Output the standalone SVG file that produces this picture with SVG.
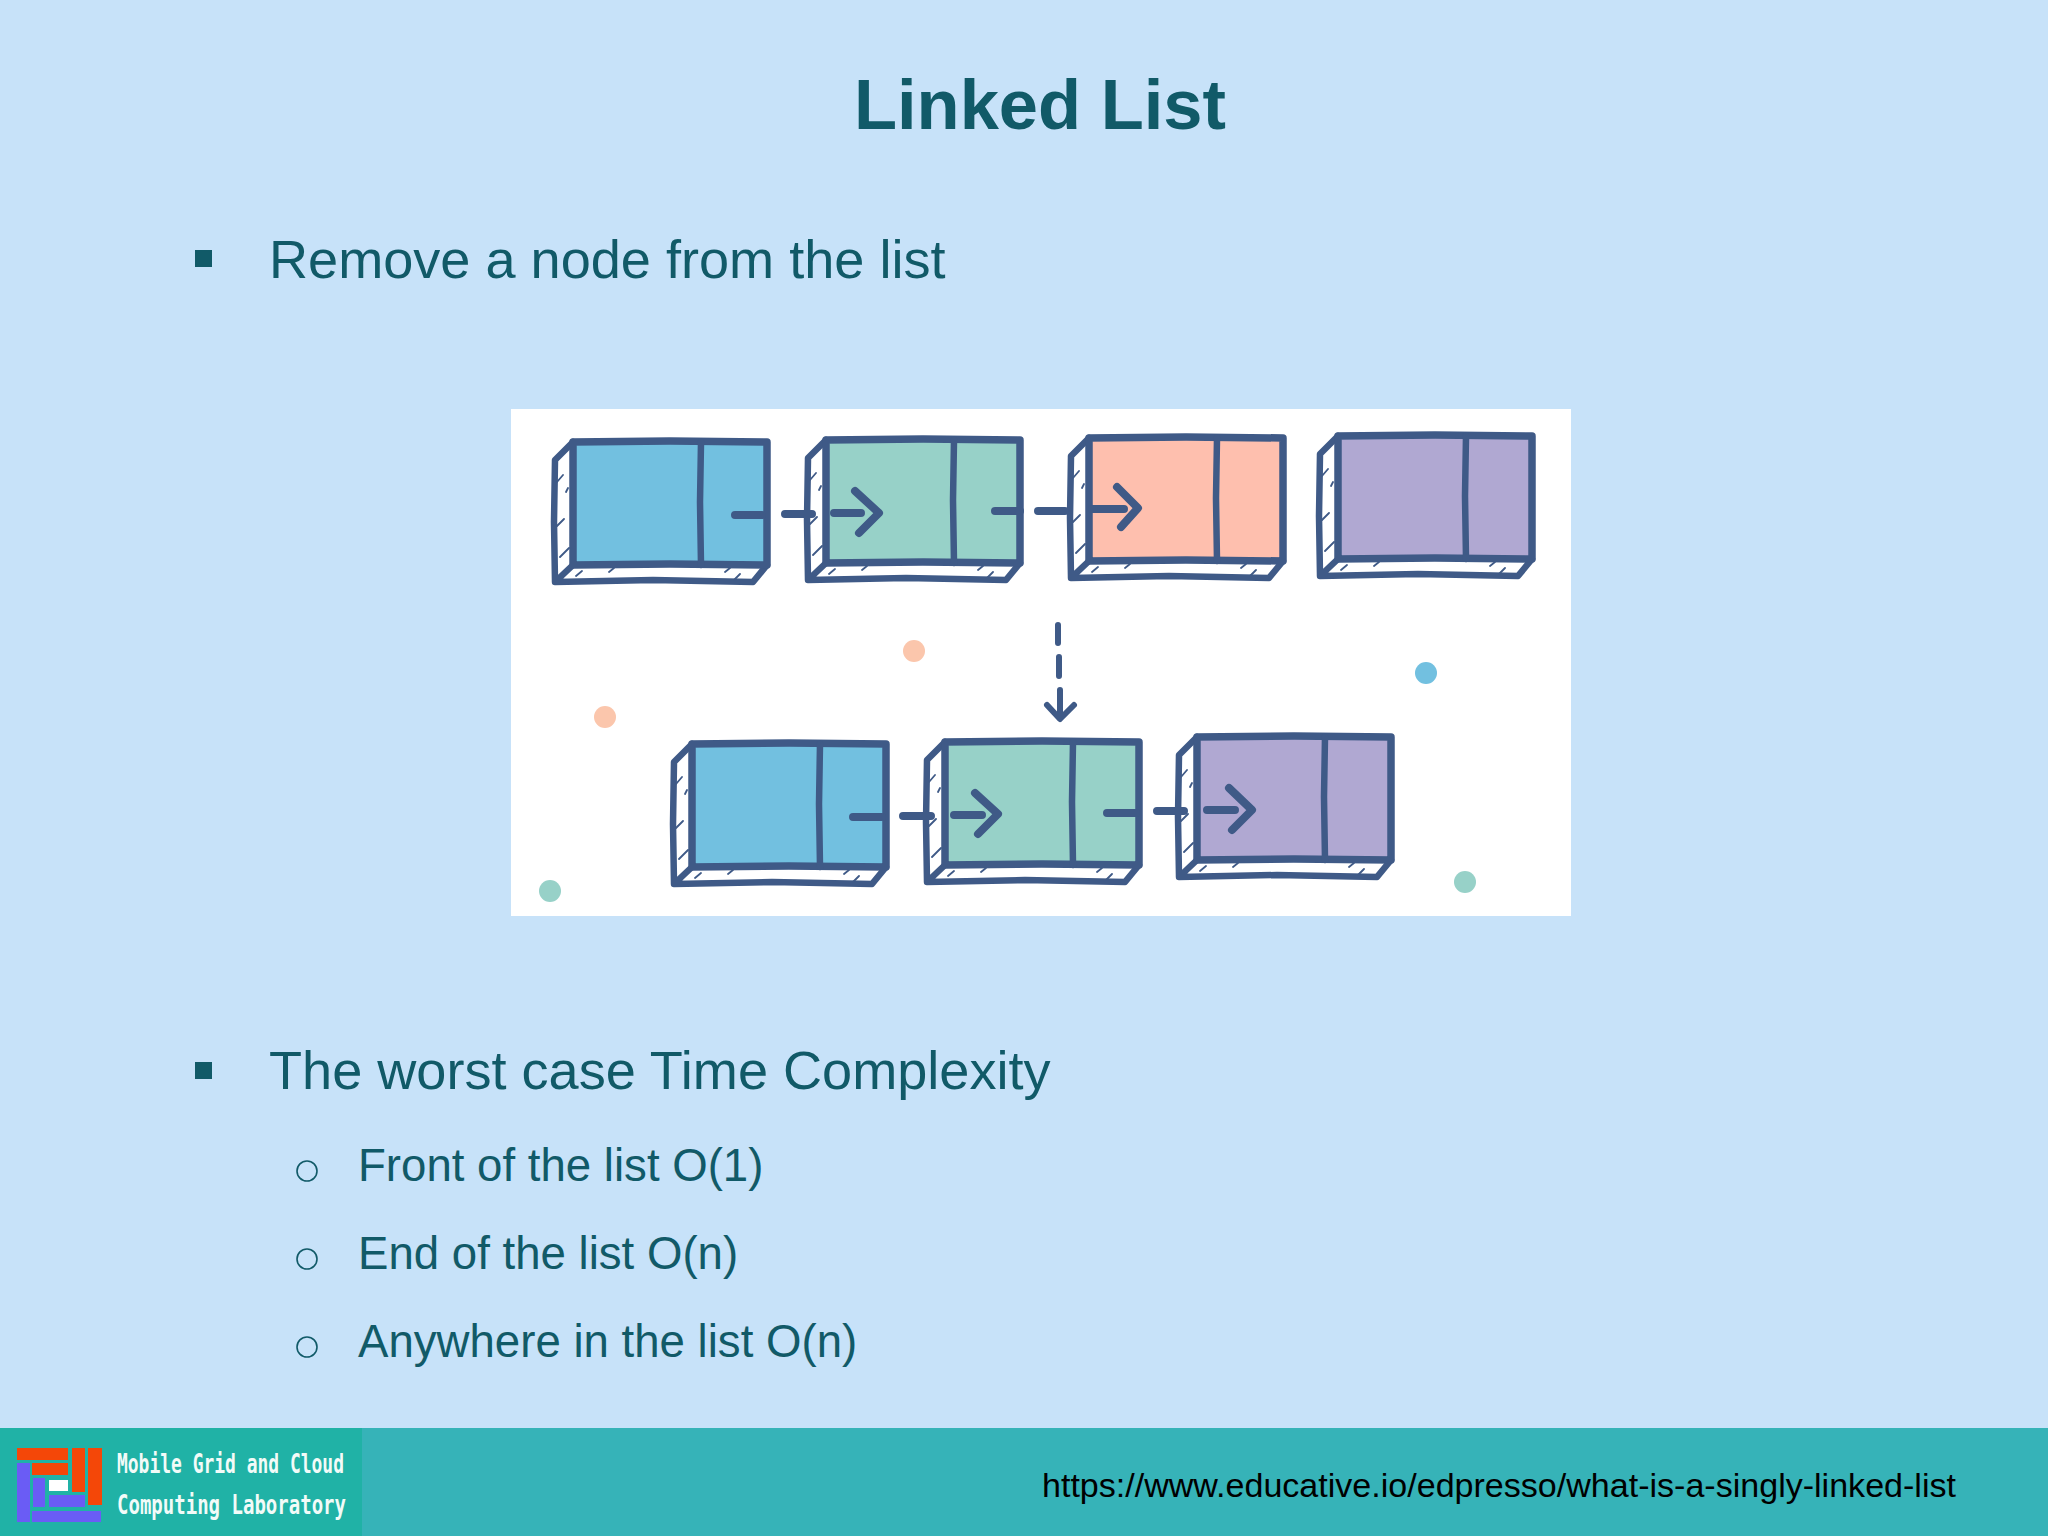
<svg xmlns="http://www.w3.org/2000/svg" width="2048" height="1536" viewBox="0 0 2048 1536">
<style>
text{font-family:"Liberation Sans",Arial,sans-serif}
.t{fill:#115a68}
.h1{font-size:70.5px;font-weight:700}
.b1{font-size:54.1px}
.b2{font-size:45.6px}
.o{fill:none;stroke:#115a68;stroke-width:1.6}
.ln{fill:none;stroke:#3f5a87;stroke-linecap:round;stroke-linejoin:round}
.bx{stroke-width:7.5}
.sd{stroke-width:6.5}
.tk{stroke-width:1.8}
.ar{stroke-width:8}
.ds{stroke-width:6}
.lg{font-size:26px;font-weight:700;fill:#f2fbf8;font-family:"DejaVu Sans Mono","Liberation Mono",monospace}
.red{fill:#f44708}
.vio{fill:#6a5cf5}
</style>
<defs>
<g id="box">
<path fill="#fff" d="M0 0L-18 18L-18 140L180 140L194 123L194 0Z"/>
<path fill="currentColor" d="M0 0H194V123H0Z"/>
<path class="ln sd" d="M0 0L-18 18L-19 80L-18 140L0 123M-18 140L80 138L180 140L194 123"/>
<path class="ln bx" d="M0 0L97 -1L194 0L194 62L194 123L97 122L0 123L0 62Z"/>
<path class="ln sd" d="M128 0L127 60L128 123"/>
<path class="ln tk" d="M-16 40L-10 33M-7 50L-5 46M-16 84L-9 77M-13 115L-4 106M3 134L9 129M36 130L41 126M152 130L157 126M161 138L167 132"/>
</g>
</defs>
<rect width="2048" height="1536" fill="#c7e2f9"/>
<text class="t h1" x="1040" y="129" text-anchor="middle">Linked List</text>
<g id="bullet-remove">
<rect class="t" x="195" y="250" width="17" height="17"/>
<text class="t b1" x="269" y="278">Remove a node from the list</text>
</g>
<rect id="figure" x="511" y="409" width="1060" height="507" fill="#fff"/>
<g id="dots">
<ellipse cx="914" cy="651" rx="11" ry="11" fill="#fbc6ac"/>
<ellipse cx="605" cy="717" rx="11" ry="11" fill="#fbc6ac"/>
<ellipse cx="550" cy="891" rx="11" ry="11" fill="#97d1c8"/>
<ellipse cx="1426" cy="673" rx="11" ry="11" fill="#72c0e0"/>
<ellipse cx="1465" cy="882" rx="11" ry="11" fill="#97d1c8"/>
</g>
<g id="node-a"><use href="#box" x="573" y="442" color="#72c0e0"/></g>
<g id="node-b"><use href="#box" x="826" y="440" color="#97d1c8"/></g>
<g id="node-c"><use href="#box" x="1089" y="438" color="#febfae"/></g>
<g id="node-d"><use href="#box" x="1338" y="436" color="#b0a8d2"/></g>
<g id="node-e"><use href="#box" x="692" y="744" color="#72c0e0"/></g>
<g id="node-f"><use href="#box" x="945" y="742" color="#97d1c8"/></g>
<g id="node-g"><use href="#box" x="1197" y="737" color="#b0a8d2"/></g>
<g id="connectors">
<path class="ln ar" d="M735 515H762M785 514H812M834 513H861M855 491L879 513L859 533"/>
<path class="ln ar" d="M995 511H1020M1038 511H1065M1092 509H1124M1117 487L1138 508L1121 527"/>
<path class="ln ar" d="M853 817H882M903 816H931M954 815H982M975 793L998 814L978 834"/>
<path class="ln ar" d="M1107 813H1136M1157 811H1184M1207 810H1235M1229 788L1252 810L1232 830"/>
<path class="ln ds" d="M1058 625V643M1059 657V676M1060 690V717M1047 705L1060 719L1074 705"/>
</g>
<g id="bullet-worst">
<rect class="t" x="195" y="1062" width="17" height="17"/>
<text class="t b1" x="269" y="1089">The worst case Time Complexity</text>
<circle class="o" cx="307" cy="1171" r="10"/>
<text class="t b2" x="358" y="1181">Front of the list O(1)</text>
<circle class="o" cx="307" cy="1259" r="10"/>
<text class="t b2" x="358" y="1269">End of the list O(n)</text>
<circle class="o" cx="307" cy="1347" r="10"/>
<text class="t b2" x="358" y="1357">Anywhere in the list O(n)</text>
</g>
<g id="footer">
<rect y="1428" width="2048" height="108" fill="#36b3b8"/>
<rect y="1428" width="362" height="108" fill="#20b2a6"/>
<rect class="vio" x="17" y="1463" width="13" height="59"/>
<rect class="vio" x="33" y="1478" width="12" height="29"/>
<rect class="vio" x="49" y="1495" width="36" height="12"/>
<rect class="vio" x="32" y="1511" width="69" height="11"/>
<rect class="red" x="17" y="1448" width="51" height="12"/>
<rect class="red" x="32" y="1463" width="36" height="12"/>
<rect class="red" x="72" y="1448" width="13" height="44"/>
<rect class="red" x="88" y="1448" width="14" height="57"/>
<rect x="49" y="1480" width="19" height="11" fill="#fff"/>
<text class="lg" x="117" y="1473" textLength="227" lengthAdjust="spacingAndGlyphs">Mobile Grid and Cloud</text>
<text class="lg" x="117" y="1514" textLength="229" lengthAdjust="spacingAndGlyphs">Computing Laboratory</text>
<text x="1042" y="1497" font-size="34.05" fill="#000">https://www.educative.io/edpresso/what-is-a-singly-linked-list</text>
</g>
</svg>
